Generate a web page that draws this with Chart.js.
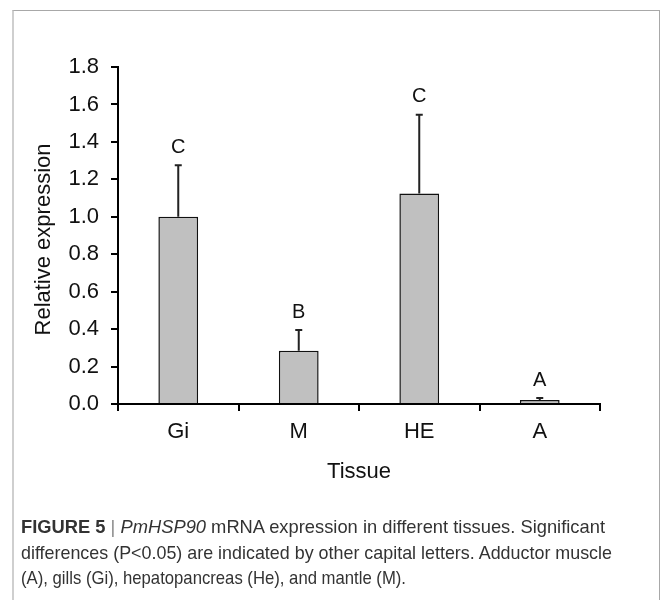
<!DOCTYPE html>
<html>
<head>
<meta charset="utf-8">
<script src="https://cdn.jsdelivr.net/npm/chart.js@4.4.0/dist/chart.umd.min.js"></script>
<style>
  html, body { margin: 0; padding: 0; background: #fff; }
  #wrap { position: relative; width: 664px; height: 600px; overflow: hidden; }
  #frame {
    position: absolute; left: 12px; top: 10px; width: 648px; height: 620px;
    border-top: 1px solid #a8a8a8; border-left: 2px solid #cfcfcf; border-right: 1px solid #a8a8a8;
    box-sizing: border-box;
  }
  #chart { position: absolute; left: 0; top: 0; }
  #caption {
    position: absolute; left: 21px; top: 514px; width: 640px;
    font-family: "Liberation Sans", Arial, sans-serif;
    font-size: 19px; line-height: 25.5px; color: #333; white-space: nowrap;
  }
  #caption .line { display: block; width: max-content; transform-origin: 0 50%; }
  #caption .sep { color: #888; font-weight: normal; }
</style>
</head>
<body>
<div id="wrap">
  <div id="frame"></div>
  <canvas id="chart" width="664" height="600"></canvas>
  <div id="caption">
    <span class="line" data-w="584"><b>FIGURE 5</b> <span class="sep">|</span> <i>PmHSP90</i> mRNA expression in different tissues. Significant</span>
    <span class="line" data-w="591">differences (P&lt;0.05) are indicated by other capital letters. Adductor muscle</span>
    <span class="line" data-w="385">(A), gills (Gi), hepatopancreas (He), and mantle (M).</span>
  </div>
</div>
<script>
// ---------------- DATA ----------------
const tissues = ["Gi", "M", "HE", "A"];
const meanExpr = [1.00, 0.285, 1.125, 0.022];
const sdExpr = [0.275, 0.11, 0.42, 0.01];
const groupLetters = ["C", "B", "C", "A"];
const yMin = 0, yMax = 1.8, yStep = 0.2;

const FONT = "'Liberation Sans', Arial, sans-serif";

// squeeze caption lines to the condensed width of the original
document.querySelectorAll("#caption .line").forEach((el) => {
  const w = el.getBoundingClientRect().width;
  el.style.transform = "scaleX(" + (Number(el.dataset.w) / w) + ")";
});

// error bars (upper only) + significance letters + axis titles
const extrasPlugin = {
  id: "extras",
  afterDatasetsDraw(chart) {
    const ctx = chart.ctx;
    const y = chart.scales.y;
    const meta = chart.getDatasetMeta(0);
    ctx.save();
    meta.data.forEach((bar, i) => {
      const top = meanExpr[i] + sdExpr[i];
      const yTop = y.getPixelForValue(top);
      const yBar = y.getPixelForValue(meanExpr[i]);
      ctx.strokeStyle = "#222";
      ctx.lineWidth = 2;
      ctx.beginPath();
      ctx.moveTo(bar.x, yBar);
      ctx.lineTo(bar.x, yTop);
      ctx.moveTo(bar.x - 3.5, yTop);
      ctx.lineTo(bar.x + 3.5, yTop);
      ctx.stroke();
      ctx.fillStyle = "#111";
      ctx.font = "20px " + FONT;
      ctx.textAlign = "center";
      ctx.textBaseline = "middle";
      ctx.fillText(groupLetters[i], bar.x, yTop - 18);
    });
    // axis titles
    ctx.fillStyle = "#111";
    ctx.font = "22px " + FONT;
    ctx.textAlign = "center";
    ctx.textBaseline = "middle";
    ctx.fillText("Tissue", (chart.chartArea.left + chart.chartArea.right) / 2, 472);
    ctx.translate(44, (chart.chartArea.top + chart.chartArea.bottom) / 2 + 4);
    ctx.rotate(-Math.PI / 2);
    ctx.fillText("Relative expression", 0, 0);
    ctx.restore();
  }
};

new Chart(document.getElementById("chart"), {
  type: "bar",
  data: {
    labels: tissues,
    datasets: [{
      data: meanExpr,
      backgroundColor: "#c0c0c0",
      borderColor: "#111",
      borderWidth: 1.5,
      barPercentage: 0.33,
      categoryPercentage: 1.0
    }]
  },
  options: {
    responsive: false,
    animation: false,
    layout: { padding: { top: 67, right: 64, left: 0, bottom: 0 } },
    plugins: { legend: { display: false }, tooltip: { enabled: false } },
    scales: {
      x: {
        afterFit(scale) { scale.height = 196; },
        border: { display: true, color: "#000", width: 2 },
        grid: { display: true, offset: true, drawOnChartArea: false, drawTicks: true, tickLength: 7, color: "#000", lineWidth: 2 },
        ticks: { color: "#111", padding: 8, font: { family: FONT, size: 22 } }
      },
      y: {
        min: yMin,
        max: yMax,
        afterFit(scale) { scale.width = 118; },
        border: { display: true, color: "#000", width: 2 },
        grid: { display: true, drawOnChartArea: false, drawTicks: true, tickLength: 7, color: "#000", lineWidth: 2 },
        ticks: {
          stepSize: yStep,
          color: "#111",
          padding: 12,
          font: { family: FONT, size: 22 },
          callback: (v) => Number(v).toFixed(1)
        }
      }
    }
  },
  plugins: [extrasPlugin]
});
</script>
</body>
</html>
